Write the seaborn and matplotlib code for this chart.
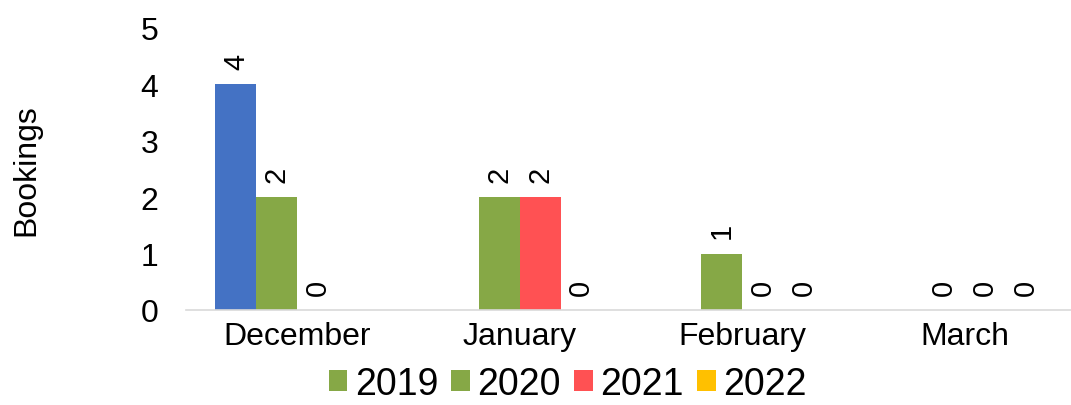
import matplotlib
matplotlib.use("Agg")
import matplotlib.pyplot as plt
from matplotlib.patches import Patch
import numpy as np
import pandas as pd
import seaborn as sns

# Bookings per month, one series per season year (NaN = no bar)
months = ["December", "January", "February", "March"]
years = ["2019", "2020", "2021", "2022"]
bookings_2019 = [4, np.nan, np.nan, np.nan]
bookings_2020 = [2, 2, 1, 0]
bookings_2021 = [0, 2, 0, 0]
bookings_2022 = [np.nan, 0, 0, 0]
y_ticks = [0, 1, 2, 3, 4, 5]

series_colors = {"2019": "#86A846", "2020": "#86A846", "2021": "#FF5153", "2022": "#FFC000"}
# single-point colour override (December 2019 bar)
point_colors = {("2019", "December"): "#4472C4"}

df = pd.DataFrame({
    "Month": months * len(years),
    "Year": [y for y in years for _ in months],
    "Bookings": bookings_2019 + bookings_2020 + bookings_2021 + bookings_2022,
})

sns.set_style("white")
plt.rcParams["font.family"] = ["Liberation Sans", "DejaVu Sans"]
plt.rcParams["text.color"] = "black"
plt.rcParams["axes.labelcolor"] = "black"

fig = plt.figure(figsize=(10.71, 4.06), dpi=100)
ax = fig.add_axes([186 / 1071, 1 - 311 / 406, 890 / 1071, (311 - 29) / 406])

sns.barplot(data=df, x="Month", y="Bookings", hue="Year", order=months,
            hue_order=years, palette=series_colors, saturation=1,
            width=0.735, linewidth=0, errorbar=None, legend=False, ax=ax)

# apply point-level colour overrides and value labels
for year, cont in zip(years, ax.containers):
    for patch in cont.patches:
        cx = patch.get_x() + patch.get_width() / 2
        month = months[int(round(cx))]
        if (year, month) in point_colors:
            patch.set_facecolor(point_colors[(year, month)])
    ax.bar_label(cont, fmt="{:.0f}", rotation=90, padding=11, fontsize=21,
                 color="black")

ax.set_xlim(-0.5, 3.5)
ax.set_ylim(0, 5)
ax.set_yticks(y_ticks)
ax.set_xlabel("")
ax.set_ylabel("Bookings", fontsize=23, color="black")
ax.yaxis.set_label_coords(-0.162, 0.5)
ax.tick_params(axis="both", length=0, labelsize=23, colors="black")
ax.tick_params(axis="y", pad=20)
ax.tick_params(axis="x", pad=8)

for side in ["left", "right", "top"]:
    ax.spines[side].set_visible(False)
ax.spines["bottom"].set_color("#D9D9D9")
ax.spines["bottom"].set_linewidth(1.2)
ax.grid(False)

handles = [Patch(facecolor=series_colors[y], edgecolor="none") for y in years]
fig.legend(handles, years, loc="center", bbox_to_anchor=(0.530, 0.052),
           ncol=4, frameon=False, fontsize=27, handlelength=0.5,
           handleheight=0.5, handletextpad=0.2, columnspacing=0.35,
           borderpad=0, borderaxespad=0, labelcolor="black")

fig.savefig("out.png", dpi=100)
